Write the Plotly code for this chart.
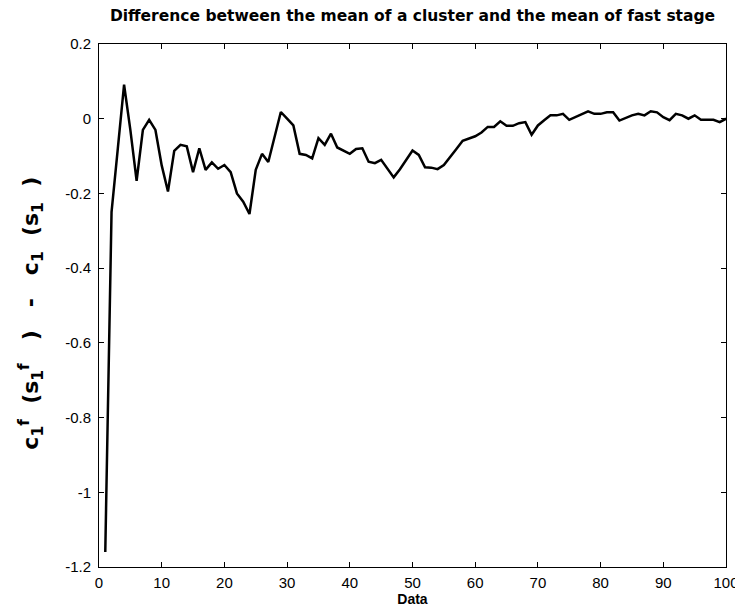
import plotly.graph_objects as go

x_data = list(range(1, 101))
y_data = [
    -1.16, -0.25, -0.08, 0.091, -0.03, -0.166, -0.03, -0.003, -0.03, -0.125,
    -0.195, -0.086, -0.07, -0.074, -0.143, -0.079, -0.137, -0.117, -0.134, -0.124,
    -0.143, -0.2, -0.222, -0.255, -0.137, -0.094, -0.116, -0.047, 0.018, 0.0,
    -0.018, -0.094, -0.097, -0.106, -0.052, -0.07, -0.04, -0.077, -0.085, -0.094,
    -0.081, -0.079, -0.115, -0.119, -0.11, -0.133, -0.157, -0.135, -0.109, -0.085,
    -0.097, -0.13, -0.131, -0.135, -0.124, -0.101, -0.081, -0.059, -0.052, -0.047,
    -0.037, -0.022, -0.022, -0.007, -0.019, -0.019, -0.012, -0.009, -0.043, -0.018,
    -0.004, 0.009, 0.009, 0.013, -0.003, 0.005, 0.014, 0.02, 0.013, 0.013,
    0.017, 0.017, -0.005, 0.002, 0.009, 0.013, 0.009, 0.02, 0.017, 0.004,
    -0.004, 0.013, 0.009, 0.0, 0.009, -0.003, -0.003, -0.003, -0.009, 0.0,
]

x_ticks = [0, 10, 20, 30, 40, 50, 60, 70, 80, 90, 100]
y_ticks = [0.2, 0, -0.2, -0.4, -0.6, -0.8, -1, -1.2]
y_tick_labels = ["0.2", "0", "-0.2", "-0.4", "-0.6", "-0.8", "-1", "-1.2"]

title_text = "Difference between the mean of a cluster and the mean of fast stage"
x_title = "Data"


def sp(n):
    return "\u00a0" * n


y_title = ("c<sub>1</sub><sup>f</sup>" + sp(2) + "(s<sub>1</sub><sup>f</sup>" + sp(3) + ")" + sp(3) + "-" + sp(3)
           + "c<sub>1</sub>" + sp(2) + "(s<sub>1</sub>" + sp(2) + ")")

FONT = "Liberation Sans, Arial, sans-serif"
WIDE = "DejaVu Sans, Verdana, sans-serif"

fig = go.Figure()
fig.add_trace(go.Scatter(
    x=x_data, y=y_data, mode="lines",
    line=dict(color="black", width=2.5),
    showlegend=False, hoverinfo="skip",
))

fig.update_layout(
    width=743, height=607,
    margin=dict(l=91, r=15, t=36, b=46),
    paper_bgcolor="white", plot_bgcolor="white",
    font=dict(family=FONT, color="black", size=12),
    title=dict(
        text="<b>" + title_text + "</b>",
        xref="paper", x=0.5, xanchor="center", y=0.997, yanchor="top",
        font=dict(family=WIDE, size=15.5, color="black"),
    ),
    annotations=[dict(
        text="<b>" + y_title + "</b>",
        xref="paper", yref="paper", x=-0.108, y=0.485,
        xanchor="center", yanchor="middle", textangle=-90, showarrow=False,
        font=dict(family=WIDE, size=22, color="black"),
    )],
)

fig.update_xaxes(
    range=[0, 100], tickvals=x_ticks, ticktext=[str(v) for v in x_ticks],
    ticks="inside", ticklen=5, tickcolor="black", tickwidth=1,
    showline=True, linecolor="black", linewidth=1, mirror="ticks",
    showgrid=False, zeroline=False, ticklabelstandoff=2,
    tickfont=dict(family=FONT, size=15),
    title=dict(text="<b>" + x_title + "</b>", font=dict(family=FONT, size=14), standoff=2),
)
fig.update_yaxes(
    range=[-1.2, 0.2], tickvals=y_ticks, ticktext=y_tick_labels,
    ticks="inside", ticklen=5, tickcolor="black", tickwidth=1,
    showline=True, linecolor="black", linewidth=1, mirror="ticks",
    showgrid=False, zeroline=False, ticklabelstandoff=4,
    tickfont=dict(family=FONT, size=15),
)

fig.write_html("out.html")
